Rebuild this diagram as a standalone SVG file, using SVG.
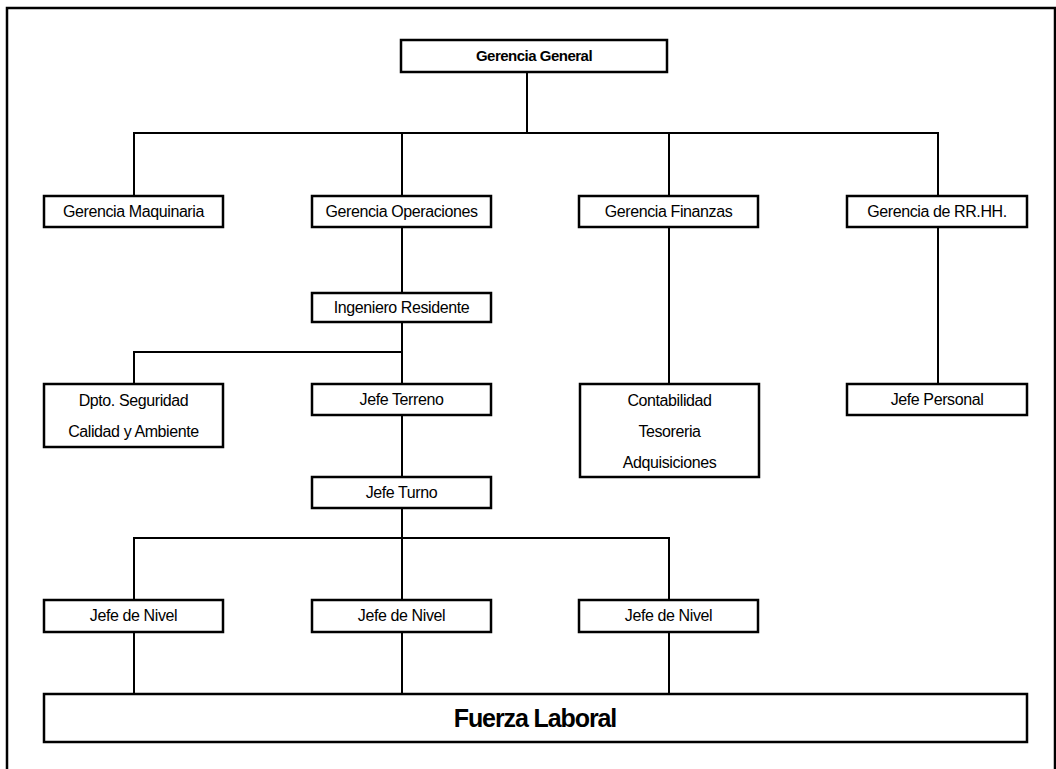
<svg xmlns="http://www.w3.org/2000/svg" width="1056" height="769" viewBox="0 0 1056 769">
<style>
.box{fill:#fff;stroke:#000;stroke-width:2.5}
.ln{fill:none;stroke:#000;stroke-width:2}
.t{font-family:"Liberation Sans",Arial,sans-serif;font-size:16px;letter-spacing:-0.4px;text-anchor:middle;fill:#000}
.b{font-weight:bold;font-size:15px;letter-spacing:-0.5px}
.big{font-weight:bold;font-size:25px;letter-spacing:-1.1px}
</style>
<rect width="1056" height="769" fill="#fff"/>
<g id="frame">
<path d="M7 769 V8 H1055 V769" fill="none" stroke="#000" stroke-width="2.5"/>
</g>
<g id="connectors">
<path class="ln" d="M527 72 V133 M134 196 V133 H938 V196 M402 133 V196 M669 133 V196"/>
<path class="ln" d="M402 227 V293 M402 322 V352 H134 V384 M402 352 V384"/>
<path class="ln" d="M402 415 V477 M402 508 V538 M134 600 V538 H669 V600 M402 538 V600"/>
<path class="ln" d="M134 632 V694 M402 632 V694 M669 632 V694"/>
<path class="ln" d="M669 227 V384 M938 227 V384"/>
</g>
<g id="n-gg"><rect class="box" x="401" y="40" width="266" height="32"/><text class="t b" x="534" y="61">Gerencia General</text></g>
<g id="n-gm"><rect class="box" x="44" y="196" width="179" height="31"/><text class="t" x="133.5" y="217">Gerencia Maquinaria</text></g>
<g id="n-go"><rect class="box" x="312" y="196" width="179" height="31"/><text class="t" x="401.5" y="217">Gerencia Operaciones</text></g>
<g id="n-gf"><rect class="box" x="579" y="196" width="179" height="31"/><text class="t" x="668.5" y="217">Gerencia Finanzas</text></g>
<g id="n-grh"><rect class="box" x="847" y="196" width="180" height="31"/><text class="t" x="937" y="217">Gerencia de RR.HH.</text></g>
<g id="n-ir"><rect class="box" x="312" y="293" width="179" height="29"/><text class="t" x="401.5" y="313">Ingeniero Residente</text></g>
<g id="n-dsca"><rect class="box" x="44" y="384" width="179" height="63"/><text class="t" x="133.5" y="406">Dpto. Seguridad</text><text class="t" x="133.5" y="437">Calidad y Ambiente</text></g>
<g id="n-jt"><rect class="box" x="312" y="384" width="179" height="31"/><text class="t" x="401.5" y="405">Jefe Terreno</text></g>
<g id="n-cta"><rect class="box" x="580" y="384" width="179" height="93"/><text class="t" x="669.5" y="406">Contabilidad</text><text class="t" x="669.5" y="437">Tesoreria</text><text class="t" x="669.5" y="468">Adquisiciones</text></g>
<g id="n-jp"><rect class="box" x="847" y="384" width="180" height="31"/><text class="t" x="937" y="405">Jefe Personal</text></g>
<g id="n-jtu"><rect class="box" x="312" y="477" width="179" height="31"/><text class="t" x="401.5" y="498">Jefe Turno</text></g>
<g id="n-jn1"><rect class="box" x="44" y="600" width="179" height="32"/><text class="t" x="133.5" y="621">Jefe de Nivel</text></g>
<g id="n-jn2"><rect class="box" x="312" y="600" width="179" height="32"/><text class="t" x="401.5" y="621">Jefe de Nivel</text></g>
<g id="n-jn3"><rect class="box" x="579" y="600" width="179" height="32"/><text class="t" x="668.5" y="621">Jefe de Nivel</text></g>
<g id="n-fl"><rect class="box" x="44" y="694" width="983" height="48"/><text class="t big" x="535" y="727">Fuerza Laboral</text></g>
</svg>
